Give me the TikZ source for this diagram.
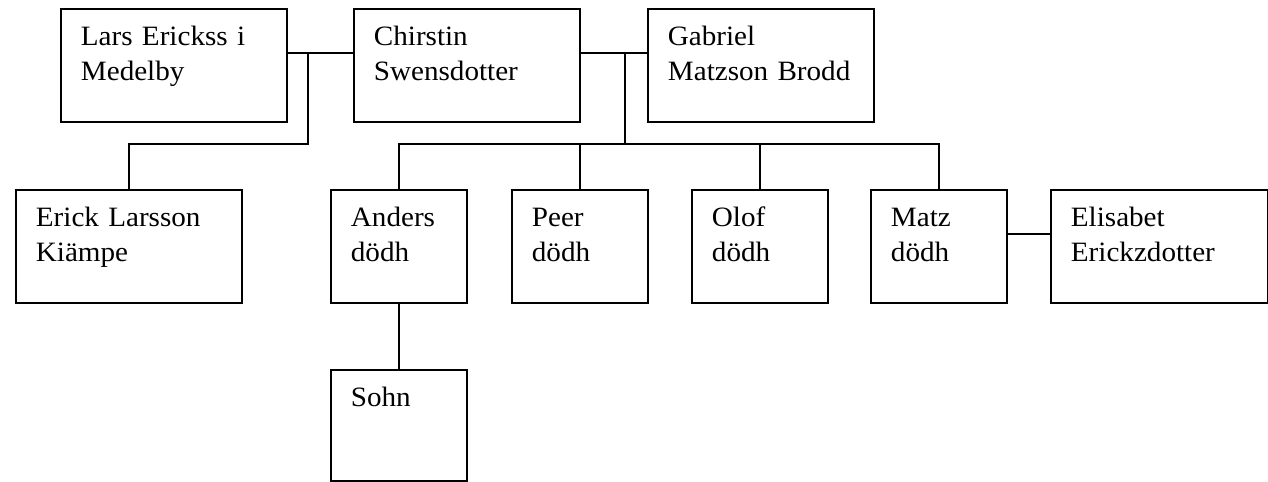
\documentclass[tikz,border=0pt]{standalone}
\usepackage{fontspec}
\setmainfont{Liberation Serif}[FakeStretch=1.04]
\usetikzlibrary{calc}

\begin{document}
\begin{tikzpicture}[x=0.75pt,y=-0.75pt,line width=1.4pt,
  pers/.style={draw,anchor=north west,align=left,inner xsep=15pt,inner ysep=0pt,
    text height=27.75pt,text depth=57pt,font=\fontsize{21}{26}\selectfont},
  wide/.style={pers,text width=139.5pt},
  narrow/.style={pers,text width=72pt}]

\useasboundingbox (0,0) rectangle (1268,482);

% parents
\node[wide] (lars) at (60,8) {Lars Erickss i\\Medelby};
\node[wide] (chr) at (353,8) {Chirstin\\Swensdotter};
\node[wide] (gab) at (647,8) {Gabriel\\Matzson Brodd};

% children
\node[wide] (erick) at (15,189) {Erick Larsson\\Kiämpe};
\node[narrow] (anders) at (330,189) {Anders\\dödh};
\node[narrow] (peer) at (511,189) {Peer\\dödh};
\node[narrow] (olof) at (691,189) {Olof\\dödh};
\node[narrow] (matz) at (870,189) {Matz\\dödh};
\node[pers,text width=132.75pt] (elis) at (1050,189) {Elisabet\\Erickzdotter};
\node[narrow,text depth=55.5pt] (sohn) at (330,369) {Sohn};

\coordinate (j1) at (308,53);
\coordinate (j2) at (625,53);

\draw ($(lars.north east)+(0,45)$) -- ($(chr.north west)+(0,45)$);
\draw ($(chr.north east)+(0,45)$) -- ($(gab.north west)+(0,45)$);
\draw (j1) -- ++(0,91) -| (erick.north);
\draw (j2) -- ++(0,91) coordinate (bar);
\draw (anders.north) |- (bar) -| (matz.north);
\foreach \n in {peer,olof}
  \draw (\n.north) -- (\n.north |- bar);
\draw ($(matz.north east)+(0,45)$) -- ($(elis.north west)+(0,45)$);
\draw (anders.south) -- (sohn.north);

\end{tikzpicture}
\end{document}
